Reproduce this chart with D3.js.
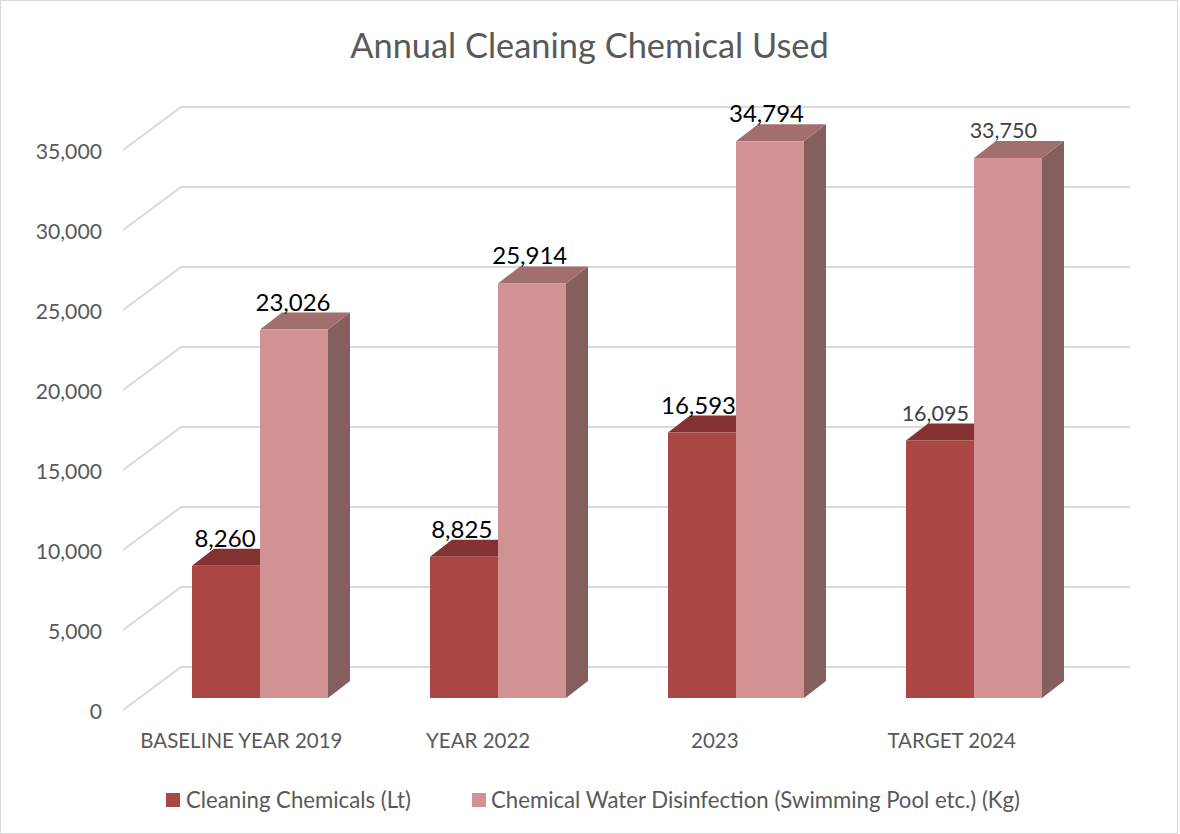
<!DOCTYPE html>
<html>
  <head>
    <meta charset="utf-8">
    <title>Annual Cleaning Chemical Used</title>
    <script src="https://d3js.org/d3.v7.min.js"></script>
    <style type="text/css">
      html, body { margin: 0; padding: 0; background: #fff; }
      svg { display: block; font-family: Lato, "Open Sans", sans-serif; }
    </style>
  </head>
  <body>
    <script type="text/javascript">

      // Data
      var categories = ["BASELINE YEAR 2019", "YEAR 2022", "2023", "TARGET 2024"];
      var seriesNames = ["Cleaning Chemicals (Lt)", "Chemical Water Disinfection (Swimming Pool etc.) (Kg)"];
      var cleaning = [8260, 8825, 16593, 16095];
      var disinfection = [23026, 25914, 34794, 33750];
      var yTicks = [0, 5000, 10000, 15000, 20000, 25000, 30000, 35000];

      // Setup size
      var width = 1180;
      var height = 834;
      var mysvg = d3.select("body")
          .append("svg")
          .attr("width", width)
          .attr("height", height);

      // Colours per series: front, top, side
      var colors = [
        { front: "#aa4643", top: "#833231", side: "#833231" },
        { front: "#d09292", top: "#a16f6e", side: "#845f5e" }
      ];

      // Outer frame
      mysvg.append("rect")
          .attr("x", 0.5).attr("y", 0.5)
          .attr("width", width - 3).attr("height", height - 1)
          .style("fill", "#fff")
          .style("stroke", "#d9d9d9");

      // Scales. y is the front edge of the floor, the walls sit up and right of it
      var y = d3.scaleLinear().domain([0, 35000]).range([710, 150]);
      var x = d3.scaleBand().domain(categories).range([141, 1093]);
      var xSeries = d3.scaleBand().domain([0, 1]).range([51, 187]);
      var xLabel = d3.scaleBand().domain(categories).range([140, 1087]);
      var wall = { dx: 58, dy: 43, right: 1130 };
      var bar = { inset: 12, dx: 22, dy: 17 };

      // Gridlines
      mysvg.append("g").selectAll("polyline")
          .data(yTicks)
          .enter().append("polyline")
          .attr("points", function(d) {
            return [[123, y(d)], [123 + wall.dx, y(d) - wall.dy], [wall.right, y(d) - wall.dy]].join(" ");
          })
          .style("fill", "none")
          .style("stroke", "#d9d9d9")
          .style("stroke-width", 2);

      // Value axis
      var yAxis = d3.axisLeft(y)
          .tickValues(yTicks)
          .tickSize(0)
          .tickPadding(0)
          .tickFormat(d3.format(","));
      var yG = mysvg.append("g")
          .attr("transform", "translate(102,2)")
          .call(yAxis);
      yG.select(".domain").remove();
      yG.selectAll("text")
          .style("font-family", "Lato, 'Open Sans', sans-serif")
          .style("font-size", "21.2px")
          .style("fill", "#595959");

      // Bars, dark series first so the light one covers its side
      [cleaning, disinfection].forEach(function(values, s) {
        var g = mysvg.append("g");
        var w = xSeries.bandwidth();
        var left = function(i) { return x(categories[i]) + xSeries(s); };
        var top = function(v) { return y(v) - bar.inset; };
        var base = y(0) - bar.inset;

        g.selectAll(".side").data(values).enter().append("polygon")
            .attr("points", function(v, i) {
              var r = left(i) + w;
              return [[r, top(v)], [r + bar.dx, top(v) - bar.dy], [r + bar.dx, base - bar.dy], [r, base]].join(" ");
            })
            .style("fill", colors[s].side);

        g.selectAll(".top").data(values).enter().append("polygon")
            .attr("points", function(v, i) {
              var l = left(i);
              return [[l, top(v)], [l + bar.dx, top(v) - bar.dy], [l + w + bar.dx, top(v) - bar.dy], [l + w, top(v)]].join(" ");
            })
            .style("fill", colors[s].top);

        g.selectAll(".front").data(values).enter().append("rect")
            .attr("x", function(v, i) { return left(i); })
            .attr("y", function(v) { return top(v); })
            .attr("width", w)
            .attr("height", function(v) { return base - top(v); })
            .style("fill", colors[s].front);
      });

      // Data labels go on top of all the bars
      [cleaning, disinfection].forEach(function(values, s) {
        mysvg.append("g").selectAll("text")
            .data(values)
            .enter().append("text")
            .attr("x", function(v, i) { return xLabel(categories[i]) + xSeries(s) + xSeries.bandwidth() / 2; })
            .attr("y", function(v) { return y(v) - bar.inset - 25; })
            .attr("text-anchor", "middle")
            .attr("dominant-baseline", "middle")
            // the target year labels are set smaller and grey in the original
            .style("font-size", function(v, i) { return i === 3 ? "21.5px" : "24px"; })
            .style("fill", function(v, i) { return i === 3 ? "#404040" : "#000"; })
            .text(d3.format(","));
      });

      // Category labels
      mysvg.append("g").selectAll("text")
          .data(categories)
          .enter().append("text")
          .attr("x", function(d) { return xLabel(d) + xLabel.bandwidth() / 2 - 17; })
          .attr("y", 743)
          .attr("text-anchor", "middle")
          .attr("dominant-baseline", "middle")
          .style("font-size", "20.5px")
          .style("fill", "#595959")
          .text(function(d) { return d; });

      // Title
      mysvg.append("text")
          .attr("x", 589.5)
          .attr("y", 49)
          .attr("text-anchor", "middle")
          .attr("dominant-baseline", "middle")
          .style("font-size", "34.4px")
          .style("fill", "#595959")
          .text("Annual Cleaning Chemical Used");

      // Legend
      var legendX = [166, 472];
      var legend = mysvg.append("g").selectAll("g")
          .data(seriesNames)
          .enter().append("g")
          .attr("transform", function(d, i) { return "translate(" + legendX[i] + ",793)"; });
      legend.append("rect")
          .attr("width", 14)
          .attr("height", 14)
          .style("fill", function(d, i) { return colors[i].front; });
      legend.append("text")
          .attr("x", function(d, i) { return i === 0 ? 20 : 19; })
          .attr("y", 9)
          .attr("dominant-baseline", "middle")
          .style("font-size", "22.2px")
          .style("fill", "#595959")
          .text(function(d) { return d; });

    </script>
  </body>
</html>
